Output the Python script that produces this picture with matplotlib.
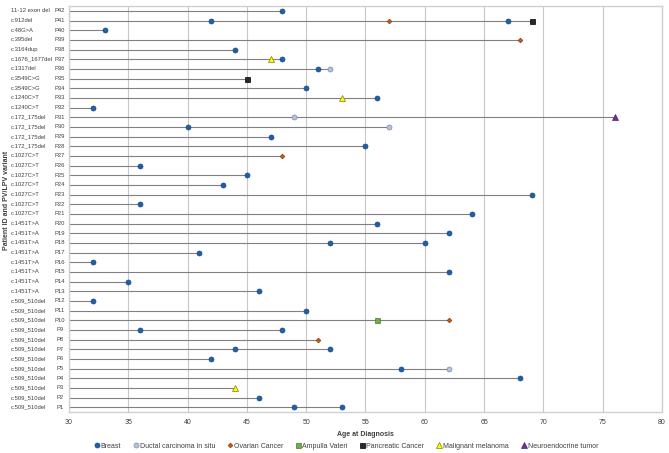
import matplotlib
matplotlib.use("Agg")
import matplotlib.pyplot as plt
import matplotlib.transforms as mtransforms

plt.rcParams["font.family"] = ["Liberation Sans Narrow", "Liberation Sans", "DejaVu Sans"]

# patient number -> variant (index 0 = P1)
variants = (["c.509_510del"] * 12 + ["c.1451T>A"] * 8 + ["c.1027C>T"] * 7 +
            ["c.172_175del"] * 4 + ["c.1240C>T"] * 2 + ["c.3549C>G"] * 2 +
            ["c.1317del", "c.1676_1677del", "c.3164dup", "c.395del",
             "c.48G>A", "c.912del", "11-12 exon del"])
patients = [f"P{i}" for i in range(1, 43)]

# (patient number, age at diagnosis)
breast = [(1, 49), (1, 53), (2, 46), (4, 68), (5, 58), (6, 42), (7, 44), (7, 52),
          (9, 36), (9, 48), (11, 50), (12, 32), (13, 46), (14, 35), (15, 62),
          (16, 32), (17, 41), (18, 52), (18, 60), (19, 62), (20, 56), (21, 64),
          (22, 36), (23, 69), (24, 43), (25, 45), (26, 36), (28, 55), (29, 47),
          (30, 40), (32, 32), (33, 56), (34, 50), (36, 51), (37, 48), (38, 44),
          (40, 33), (41, 42), (41, 67), (42, 48)]
dcis = [(5, 62), (30, 57), (31, 49), (36, 52)]
ovarian = [(8, 51), (10, 62), (27, 48), (39, 68), (41, 57)]
ampulla = [(10, 56)]
pancreatic = [(35, 45), (41, 69)]
melanoma = [(3, 44), (33, 53), (37, 47)]
neuroendocrine = [(31, 76)]

series = [
    ("Breast", breast, dict(marker="o", ms=3.6, mfc="#1f5fa8", mec="#174a85")),
    ("Ductal carcinoma in situ", dcis, dict(marker="o", ms=3.6, mfc="#b4c2e0", mec="#7f8aa0")),
    ("Ovarian Cancer", ovarian, dict(marker="D", ms=2.4, mfc="#c55a11", mec="#8a3e0b")),
    ("Ampulla Vateri", ampulla, dict(marker="s", ms=3.6, mfc="#70ad47", mec="#4a7a2c")),
    ("Pancreatic Cancer", pancreatic, dict(marker="s", ms=3.6, mfc="#222a35", mec="#000000")),
    ("Malignant melanoma", melanoma, dict(marker="^", ms=3.8, mfc="#ffff00", mec="#7f7f00")),
    ("Neuroendocrine tumor", neuroendocrine, dict(marker="^", ms=3.8, mfc="#7030a0", mec="#4b1f6b")),
]

fig = plt.figure(figsize=(6.69, 4.53), dpi=100)
ax = fig.add_axes([69 / 669, 1 - 412 / 453, (662 - 69) / 669, (412 - 6) / 453])

# line from 30 to the last diagnosis of each patient
last_age = {}
for _, pts, _ in series:
    for p, a in pts:
        last_age[p] = max(last_age.get(p, 0), a)
for p, a in last_age.items():
    ax.plot([30, a], [p, p], color="#808080", lw=0.8, zorder=2)

for name, pts, style in series:
    ax.plot([a for _, a in pts], [p for p, _ in pts], ls="none", label=name,
            mew=0.5, zorder=3, **style)

ax.set_xlim(30, 80)
ax.set_ylim(0.5, 42.5)
ax.set_xticks(range(30, 81, 5))
ax.tick_params(axis="x", length=0, labelsize=5, colors="#404040", pad=5)
ax.set_yticks([])
ax.grid(axis="x", color="#c8c8c8", lw=0.8, zorder=0)
for s in ax.spines.values():
    s.set_color("#d0d0d0")
    s.set_linewidth(1.0)

trans = mtransforms.blended_transform_factory(fig.transFigure, ax.transData)
for i in range(42):
    ax.text(11 / 669, i + 1, variants[i], transform=trans, ha="left", va="center",
            fontsize=4.2, color="#404040")
    ax.text(60 / 669, i + 1, patients[i], transform=trans, ha="center", va="center",
            fontsize=4.2, color="#404040")

fig.text(7 / 669, 1 - 200 / 453, "Patient ID and PV/LPV variant", rotation=90,
         ha="center", va="center", fontsize=5, fontweight="bold", color="#404040")
fig.text(365 / 669, 1 - 435 / 453, "Age at Diagnosis", ha="center", va="center",
         fontsize=5, fontweight="bold", color="#404040")

fig.legend(loc="center", bbox_to_anchor=(346 / 669, 1 - 446 / 453), ncol=7,
           frameon=False, fontsize=5, handletextpad=0.2, columnspacing=1.7,
           handlelength=0.8, labelcolor="#404040")

fig.savefig("out.png", dpi=100)
